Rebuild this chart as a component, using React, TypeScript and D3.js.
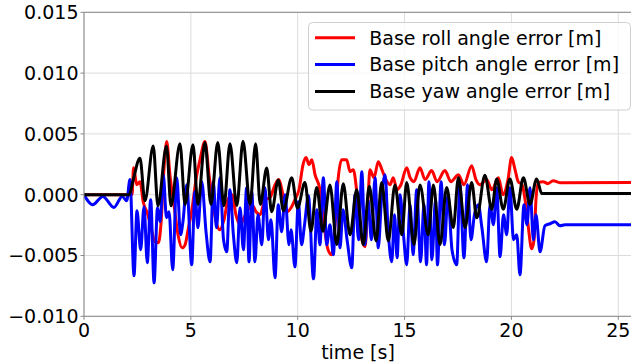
import React from "react";
import * as d3 from "d3";

const timeTicks = [0, 5, 10, 15, 20, 25];
const valueTicks = [-0.01, -0.005, 0, 0.005, 0.01, 0.015];
const seriesNames = [
  "Base roll angle error [m]",
  "Base pitch angle error [m]",
  "Base yaw angle error [m]",
];
const seriesColors = ["#ff0000", "#0000ff", "#000000"];
const xLabel = "time [s]";

const roll: [number, number][] = [
  [0, 0], [2.25, 0], [2.32, 0.00222], [2.47, 0.00082], [2.62, 0.00107], [2.77, -0.00058],
  [2.99, -0.00165], [3.18, -0.00305], [3.32, -0.00387], [3.48, -0.00395], [3.6, -0.00247],
  [3.74, 0.00206], [3.87, 0.00437], [4.02, 0.00165], [4.21, -0.00082], [4.4, -0.00329],
  [4.59, -0.00437], [4.73, -0.00412], [4.87, -0.00288], [5.05, -0.00124], [5.24, 0.00124],
  [5.43, 0.00288], [5.66, 0.00437], [5.85, 0.00165], [6.04, -0.00082], [6.22, -0.00247],
  [6.36, -0.00288], [6.55, -0.00206], [6.74, -0.00041], [6.93, 0], [7.11, -0.00165],
  [7.3, -0.00247], [7.49, -0.00189], [7.67, -0.00124], [7.86, -0.00082], [8.05, -0.0014],
  [8.24, -0.00165], [8.47, -0.00041], [8.7, -0.00025], [8.94, 0.00082], [9.12, 0.00124],
  [9.31, 0], [9.5, -0.0014], [9.69, -0.00107], [9.87, -0.00041], [10.06, 0.00041],
  [10.25, 0.00247], [10.39, 0.00305], [10.53, 0.00247], [10.66, 0.00288], [10.81, 0.00165],
  [11.04, 0.00041], [11.23, -0.00247], [11.42, -0.00453], [11.59, -0.00494], [11.75, -0.00247],
  [11.89, 0.00124], [12.06, 0.00288], [12.29, 0.00288], [12.45, 0.00189], [12.6, 0.00206],
  [12.78, 0], [12.96, -0.00329], [13.15, -0.00428], [13.29, -0.00041], [13.38, 0.00206],
  [13.57, 0.0014], [13.77, 0.00272], [13.94, 0.00206], [14.13, 0.00124], [14.32, 0.00082],
  [14.47, 0.0014], [14.65, 0.00041], [14.83, 0.00082], [15.1, 0.00222], [15.26, 0.0014],
  [15.44, 0.00107], [15.72, 0.00222], [15.96, 0.00124], [16.27, 0.00198], [16.52, 0.00107],
  [16.89, 0.00198], [17.17, 0.00107], [17.52, 0.00165], [17.78, 0.00082], [18.14, 0.00239],
  [18.34, 0.00124], [18.53, 0.00082], [18.84, 0.00124], [19.09, 0.00041], [19.39, 0.0014],
  [19.61, 0], [19.84, 0.00124], [20.01, 0.00305], [20.17, 0.00206], [20.32, 0.00107],
  [20.5, 0.00082], [20.64, -0.00041], [20.78, -0.00247], [20.95, -0.00445], [21.06, -0.00371],
  [21.15, -0.00041], [21.26, 0.00099], [21.48, 0.00107], [21.71, 0.00091], [21.95, 0.00115],
  [22.27, 0.00099], [26, 0.001],
];

const pitch: [number, number][] = [
  [0, 0], [0.41, -0.00082], [0.88, -0.00014], [1.4, -0.00105], [1.79, -0.00014], [2.0, -0.00049],
  [2.15, 0.00124], [2.34, -0.00667], [2.48, -0.00132], [2.65, -0.00453], [2.81, -0.00099],
  [2.96, -0.0056], [3.12, -0.00041], [3.28, -0.00725], [3.44, -0.00107], [3.56, -0.00222],
  [3.71, 0.00165], [3.86, -0.00189], [3.98, -0.0014], [4.15, -0.00618], [4.34, 0.0014],
  [4.52, -0.00329], [4.63, -0.00222], [4.81, 0.00082], [5.04, -0.00577], [5.19, 0.00025],
  [5.33, -0.00272], [5.51, 0.00107], [5.71, -0.00305], [5.9, -0.00552], [6.05, 0.00107],
  [6.2, -0.00272], [6.36, 0.0014], [6.53, -0.00371], [6.68, -0.0047], [6.83, 0.00041],
  [6.99, -0.00329], [7.15, -0.0056], [7.3, -0.00107], [7.46, -0.00453], [7.61, 0.00058],
  [7.72, -0.00552], [7.85, 0.00025], [8.0, -0.00552], [8.14, -0.00165], [8.32, -0.00412],
  [8.47, 0.00058], [8.63, -0.00371], [8.75, -0.00206], [8.94, -0.00684], [9.09, -0.00082],
  [9.25, -0.00305], [9.41, 0], [9.59, -0.00412], [9.69, -0.00288], [9.87, -0.00593],
  [10.03, -0.00058], [10.18, -0.00412], [10.32, -0.00247], [10.5, -0.00008], [10.74, -0.00692],
  [10.9, -0.00124], [11.04, -0.00412], [11.2, 0.0014], [11.36, -0.00412], [11.51, -0.00247],
  [11.67, -0.00494], [11.83, 0.00107], [11.98, -0.00437], [12.12, -0.00124], [12.31, -0.00371],
  [12.53, -0.00601], [12.68, 0], [12.85, -0.00371], [13.0, 0.00189], [13.15, -0.00412],
  [13.29, -0.00041], [13.45, -0.00371], [13.62, 0.0014], [13.77, -0.00437], [13.92, -0.00041],
  [14.09, 0.00165], [14.23, -0.00288], [14.4, -0.00552], [14.53, -0.00165], [14.65, -0.00519],
  [14.79, 0], [14.95, -0.00329], [15.1, -0.00577], [15.26, -0.00082], [15.4, -0.00494],
  [15.57, 0.00041], [15.75, -0.00552], [15.91, -0.00082], [16.03, -0.00577], [16.14, 0.00107],
  [16.28, -0.00535], [16.45, -0.00041], [16.54, -0.00577], [16.71, 0.00107], [16.87, -0.00412],
  [17.03, 0], [17.22, -0.00453], [17.44, -0.00577], [17.59, 0.00082], [17.78, -0.00519],
  [17.95, 0.00082], [18.11, -0.00371], [18.27, -0.00165], [18.45, -0.00082], [18.62, -0.00272],
  [18.84, -0.00552], [19.0, -0.00082], [19.16, -0.00247], [19.31, 0.00058], [19.47, -0.00511],
  [19.63, -0.00165], [19.78, -0.00329], [19.93, 0.00058], [20.1, -0.00371], [20.25, -0.00329],
  [20.4, -0.00659], [20.59, -0.00082], [20.73, -0.00247], [20.87, 0.00058], [21.03, -0.00371],
  [21.15, -0.00165], [21.34, -0.0047], [21.57, -0.00255], [21.81, -0.00239], [22.04, -0.00222],
  [22.27, -0.00255], [22.51, -0.00247], [26, -0.00247],
];

const yaw: [number, number][] = [
  [0, 0], [2.12, 0], [2.3, 0.0012], [2.62, 0.003], [2.85, -0.0005], [3.24, 0.004],
  [3.46, -0.0009], [3.86, 0.004], [4.07, -0.0009], [4.49, 0.0042], [4.73, -0.0008],
  [5.1, 0.0041], [5.33, -0.0008], [5.66, 0.0043], [5.94, -0.0008], [6.26, 0.0043],
  [6.55, -0.0009], [6.83, 0.0042], [7.15, -0.0009], [7.44, 0.0044], [7.77, -0.0008],
  [8.03, 0.0042], [8.25, -0.0008], [8.55, 0.0022], [8.78, -0.0014], [9.09, 0.0012],
  [9.33, -0.0013], [9.72, 0.0014], [9.99, -0.0011], [10.34, 0.001], [10.62, -0.003],
  [10.89, 0.0006], [11.18, -0.003], [11.51, 0.0008], [11.83, -0.0041], [12.13, 0.0009],
  [12.45, -0.0033], [12.76, 0.0004], [13.07, -0.0041], [13.35, 0.0007], [13.67, -0.0038],
  [13.93, 0.001], [14.24, -0.0038], [14.55, 0.0008], [14.87, -0.0033], [15.1, 0.001],
  [15.44, -0.0041], [15.72, 0.0008], [16.11, -0.0033], [16.35, 0.0008], [16.66, -0.0041],
  [16.97, 0.0006], [17.28, -0.0027], [17.52, 0.0014], [17.83, -0.0027], [18.14, 0.001],
  [18.38, -0.0019], [18.76, 0.0016], [19.08, -0.0012], [19.31, 0.0013], [19.62, -0.0012],
  [19.93, 0.0013], [20.25, -0.0012], [20.56, 0.0014], [20.87, -0.0008], [21.18, 0.0013],
  [21.42, 0.0001], [26, 0.0001],
];

const allSeries = [roll, pitch, yaw];

const W = 631;
const H = 363;
const left = 84;
const top = 12.3;
const bottom = 316.3;
const pxPerSecond = 21.37;
const xMax = 26;
const FONT = "'DejaVu Sans', sans-serif";
const FS = 19;

export default function App() {
  const x = d3.scaleLinear().domain([0, xMax]).range([left, left + xMax * pxPerSecond]);
  const y = d3.scaleLinear().domain([-0.01, 0.015]).range([bottom, top]);
  const line = d3
    .line<[number, number]>()
    .x((d) => x(d[0]))
    .y((d) => y(d[1]))
    .curve(d3.curveMonotoneX);
  const fmtY = d3.format(".3f");
  const right = x(xMax);

  const legX = 308.5;
  const legY = 22.5;
  const legW = 322;
  const legH = 87.5;
  const rowY = [37.7, 64.5, 91.5];

  return (
    <svg
      width={W}
      height={H}
      style={{ position: "absolute", left: 0, top: 0, background: "#fff" }}
      fontFamily={FONT}
    >
      <defs>
        <clipPath id="plotClip">
          <rect x={left} y={top} width={right - left} height={bottom - top} />
        </clipPath>
      </defs>
      <rect x={0} y={0} width={W} height={H} fill="#fff" />
      <g stroke="#dcdcdc" strokeWidth={1}>
        {timeTicks.map((t) => (
          <line key={"gx" + t} x1={x(t)} x2={x(t)} y1={top} y2={bottom} />
        ))}
        {valueTicks.map((v) => (
          <line key={"gy" + v} x1={left} x2={right} y1={y(v)} y2={y(v)} />
        ))}
      </g>
      <g clipPath="url(#plotClip)" fill="none" strokeWidth={3} strokeLinejoin="round" strokeLinecap="round">
        {allSeries.map((s, i) => (
          <path key={i} d={line(s) || ""} stroke={seriesColors[i]} />
        ))}
      </g>
      <g stroke="#888" strokeWidth={1}>
        <line x1={left} x2={left} y1={top} y2={bottom} />
        <line x1={left} x2={right} y1={bottom} y2={bottom} />
        <line x1={left} x2={right} y1={top} y2={top} />
      </g>
      <g>
        {valueTicks.map((v) => (
          <g key={"ty" + v}>
            <line x1={left - 3.5} x2={left} y1={y(v)} y2={y(v)} stroke="#888" strokeWidth={1} />
            <text x={left - 5.5} y={y(v)} dy="0.36em" textAnchor="end" fontSize={FS} fill="#000">
              {fmtY(v)}
            </text>
          </g>
        ))}
      </g>
      <g>
        {timeTicks.map((t) => (
          <g key={"tx" + t}>
            <line x1={x(t)} x2={x(t)} y1={bottom} y2={bottom + 3.5} stroke="#888" strokeWidth={1} />
            <text x={x(t)} y={337} textAnchor="middle" fontSize={FS} fill="#000">
              {String(t)}
            </text>
          </g>
        ))}
      </g>
      <text x={(left + 631) / 2 + 0.5} y={358.5} textAnchor="middle" fontSize={FS} fill="#000">
        {xLabel}
      </text>
      <rect
        x={legX}
        y={legY}
        width={legW}
        height={legH}
        rx={4}
        fill="#fff"
        fillOpacity={0.8}
        stroke="#d0d0d0"
        strokeWidth={1}
      />
      {seriesNames.map((name, i) => (
        <g key={name}>
          <line x1={315} x2={355} y1={rowY[i]} y2={rowY[i]} stroke={seriesColors[i]} strokeWidth={3} />
          <text x={369.3} y={rowY[i]} dy="0.36em" fontSize={FS} fill="#000">
            {name}
          </text>
        </g>
      ))}
    </svg>
  );
}
